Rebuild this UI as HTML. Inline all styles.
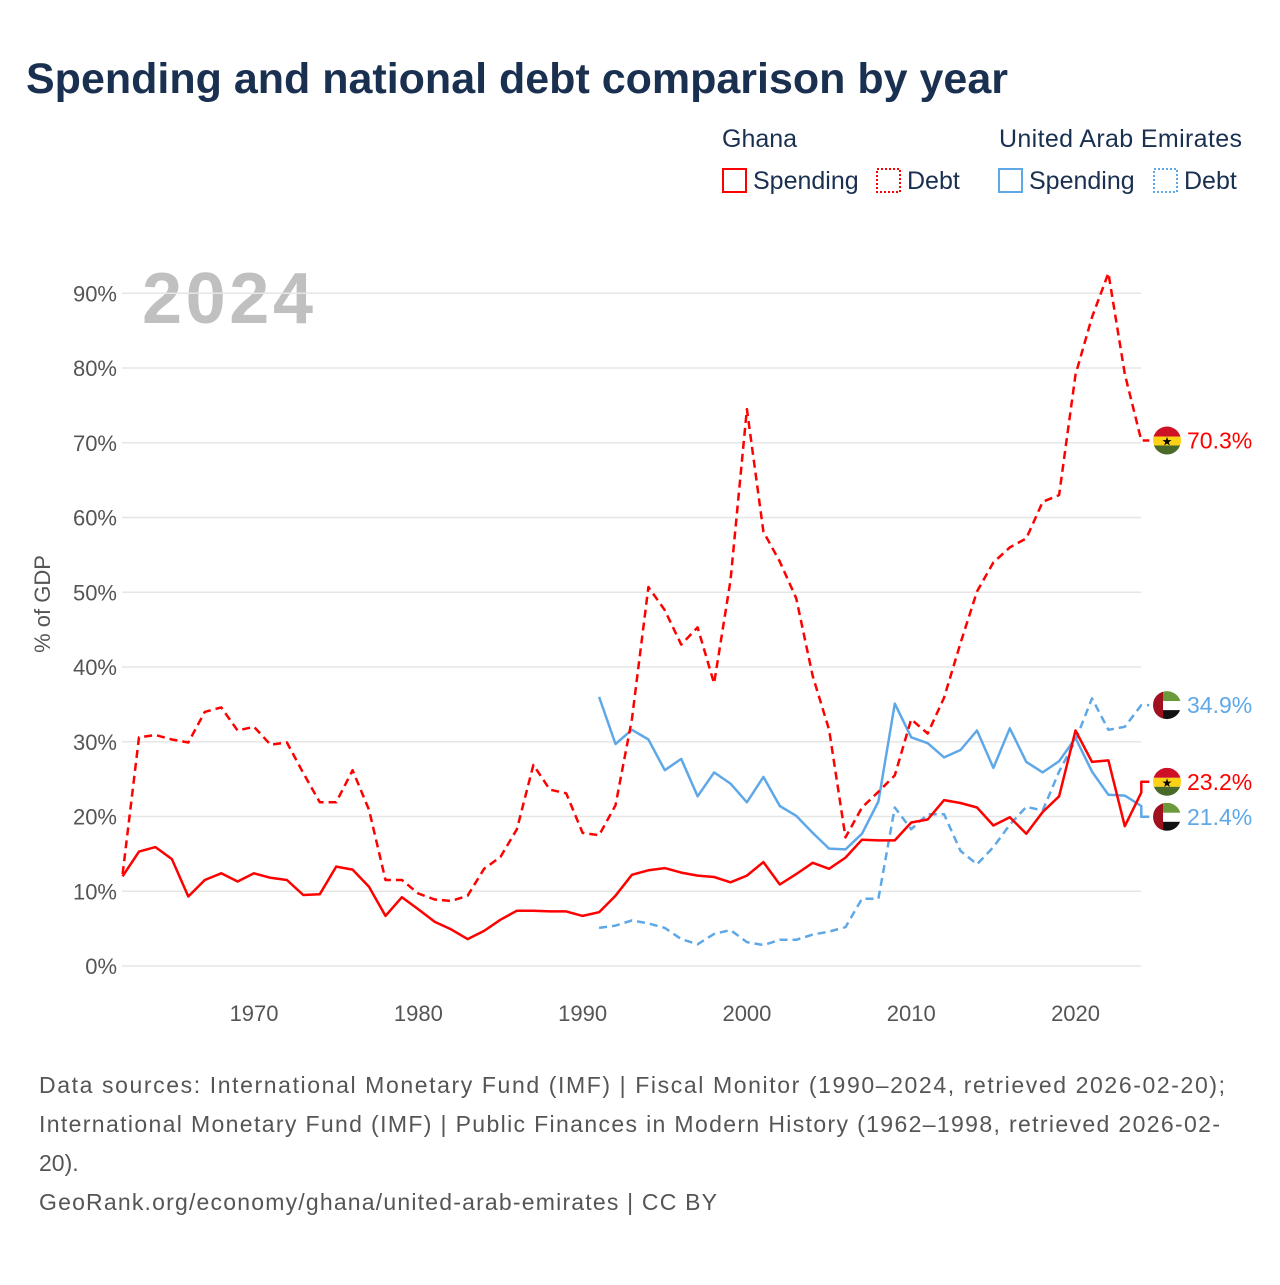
<!DOCTYPE html>
<html><head><meta charset="utf-8"><style>
body{margin:0;background:#fff;font-family:"Liberation Sans",sans-serif}
#wrap{position:relative;width:1280px;height:1280px}
</style></head><body>
<div id="wrap">
<svg id="svg" width="1280" height="1280" xmlns="http://www.w3.org/2000/svg">
<text x="26" y="93" font-size="43" font-weight="bold" fill="#1a3050">Spending and national debt comparison by year</text>
<g font-size="25" fill="#1a3050">
<text x="722" y="147">Ghana</text>
<text x="999" y="147" textLength="243">United Arab Emirates</text>
<g><rect x="723" y="169" width="23" height="23" fill="none" stroke="#f00" stroke-width="2"/><text x="753" y="189">Spending</text></g>
<g><rect x="877" y="169" width="23" height="23" fill="none" stroke="#f00" stroke-width="2" stroke-dasharray="2 2"/><text x="907" y="189">Debt</text></g>
<g><rect x="999" y="169" width="23" height="23" fill="none" stroke="#5fa8e8" stroke-width="2"/><text x="1029" y="189">Spending</text></g>
<g><rect x="1154" y="169" width="23" height="23" fill="none" stroke="#5fa8e8" stroke-width="2" stroke-dasharray="2 2"/><text x="1184" y="189">Debt</text></g>
</g>
<text x="142" y="323" font-size="72" font-weight="bold" fill="#c0c0c0" textLength="171">2024</text>
<text transform="translate(50,604) rotate(-90)" text-anchor="middle" font-size="22" fill="#555">% of GDP</text>
<g id="grid"></g><g id="series"></g><g id="ends"></g>
<g font-size="23" fill="#555">
<text x="39" y="1093" textLength="1186">Data sources: International Monetary Fund (IMF) | Fiscal Monitor (1990–2024, retrieved 2026-02-20);</text>
<text x="39" y="1132" textLength="1181">International Monetary Fund (IMF) | Public Finances in Modern History (1962–1998, retrieved 2026-02-</text>
<text x="39" y="1171">20).</text>
<text x="39" y="1210" textLength="678">GeoRank.org/economy/ghana/united-arab-emirates | CC BY</text>
</g>
</svg>
</div>
<script>
const yTicks=[0,10,20,30,40,50,60,70,80,90];
const xTicks=[1970,1980,1990,2000,2010,2020];
const ghanaStart=1962;
const ghanaSpending=[12,15.3,15.9,14.3,9.3,11.5,12.4,11.3,12.4,11.8,11.5,9.5,9.6,13.3,12.9,10.6,6.7,9.2,7.6,5.9,4.9,3.6,4.7,6.2,7.4,7.4,7.3,7.3,6.7,7.2,9.4,12.2,12.8,13.1,12.5,12.1,11.9,11.2,12.1,13.9,10.9,12.3,13.8,13.0,14.5,16.9,16.8,16.8,19.2,19.6,22.2,21.8,21.2,18.8,19.9,17.7,20.6,22.7,31.5,27.3,27.5,18.7,23.2];
const ghanaDebt=[12.3,30.6,30.9,30.3,29.9,34.0,34.6,31.5,32.0,29.6,29.9,25.8,21.9,21.9,26.2,20.9,11.5,11.5,9.7,8.9,8.7,9.4,13.0,14.6,18.3,26.9,23.6,23.1,17.8,17.5,21.5,33,50.7,47.6,43.0,45.3,37.8,51.6,74.5,58.1,54.1,49.2,38.8,31.6,17.2,21.2,23.3,25.5,33.0,31.1,35.9,43.2,50.1,54.0,56.0,57.2,62.1,63.0,79.1,86.8,92.7,79.2,70.3];
const uaeStart=1991;
const uaeSpending=[36.0,29.7,31.6,30.3,26.2,27.7,22.7,25.9,24.4,21.9,25.3,21.4,20.1,17.8,15.7,15.6,17.7,22.0,35.1,30.6,29.8,27.9,28.9,31.5,26.5,31.8,27.3,25.9,27.4,30.5,26.0,22.9,22.8,21.4];
const uaeDebt=[5.1,5.4,6.1,5.7,5.1,3.6,2.9,4.3,4.8,3.2,2.8,3.5,3.5,4.2,4.6,5.2,9.0,9.0,21.2,18.3,20.3,20.3,15.4,13.6,15.9,18.9,21.3,20.8,26.0,30.2,35.8,31.6,32.0,34.9];
const X=y=>122.6+(y-1962)*16.43;
const Y=v=>966-v*7.475;
const NS="http://www.w3.org/2000/svg";
function mk(t,a,p){const e=document.createElementNS(NS,t);for(const k in a)e.setAttribute(k,a[k]);p.appendChild(e);return e;}
const grid=document.getElementById('grid');
yTicks.forEach(v=>{
 const l=mk('line',{x1:122,x2:1141,y1:Y(v),y2:Y(v),stroke:'#e6e6e6','stroke-width':1.5},grid);
 
 
 const t=mk('text',{x:117,y:Y(v)+8,'text-anchor':'end','font-size':22,fill:'#555'},grid);
 t.textContent=v+'%';
 
 
});
xTicks.forEach(y=>{
 const t=mk('text',{x:X(y),y:1021,'text-anchor':'middle','font-size':22,fill:'#555'},grid);
 t.textContent=y;
 
 
});
// label positions (spread to avoid overlap)
const gd=ghanaDebt[ghanaDebt.length-1],gs=ghanaSpending[ghanaSpending.length-1];
const ud=uaeDebt[uaeDebt.length-1],us=uaeSpending[uaeSpending.length-1];
let lyGS=Y(gs),lyUS=Y(us);
if(Math.abs(lyGS-lyUS)<35){const m=(lyGS+lyUS)/2;const s=lyGS<lyUS?-1:1;lyGS=m+s*17.5;lyUS=m-s*17.5;}
const ser=document.getElementById('series');
function line(arr,start,color,dash,name,ly){
 const pts=arr.map((v,i)=>X(start+i).toFixed(1)+','+Y(v).toFixed(1));
 const xe=X(start+arr.length-1);
 pts.push(xe.toFixed(1)+','+ly.toFixed(1));
 pts.push((xe+8).toFixed(1)+','+ly.toFixed(1));
 const p=mk('polyline',{points:pts.join(' '),fill:'none',stroke:color,'stroke-width':2.5,'stroke-linejoin':'round','stroke-dasharray':dash},ser);
 
 
}
line(uaeDebt,uaeStart,'#5fa8e8','8 5','line-uae-debt',Y(ud));
line(uaeSpending,uaeStart,'#5fa8e8','none','line-uae-spending',lyUS);
line(ghanaDebt,ghanaStart,'#f00','8 5','line-ghana-debt',Y(gd));
line(ghanaSpending,ghanaStart,'#f00','none','line-ghana-spending',lyGS);
const ends=document.getElementById('ends');
function flag(cy,type,val,color,name){
 const g=mk('g',{},ends);
 
 
 const cx=1167,r=14;
 const id='c'+Math.round(cy);
 const cp=mk('clipPath',{id:id},g);mk('circle',{cx:cx,cy:cy,r:r},cp);
 const gg=mk('g',{'clip-path':'url(#'+id+')'},g);
 if(type==='gh'){
  mk('rect',{x:cx-r,y:cy-r,width:2*r,height:10,fill:'#ce1126'},gg);
  mk('rect',{x:cx-r,y:cy-r+10,width:2*r,height:9,fill:'#fcd116'},gg);
  mk('rect',{x:cx-r,y:cy-r+19,width:2*r,height:10,fill:'#4a6a2a'},gg);
  const s=mk('text',{x:cx,y:cy+5,'text-anchor':'middle','font-size':12,fill:'#000'},gg);s.textContent='★';
 }else{
  mk('rect',{x:cx-r,y:cy-r,width:2*r,height:10,fill:'#6a9a3a'},gg);
  mk('rect',{x:cx-r,y:cy-r+10,width:2*r,height:9,fill:'#fff'},gg);
  mk('rect',{x:cx-r,y:cy-r+19,width:2*r,height:10,fill:'#111'},gg);
  mk('rect',{x:cx-r,y:cy-r,width:10,height:2*r,fill:'#a0101e'},gg);
 }
 const t=mk('text',{x:1187,y:cy+8,'font-size':23,fill:color},g);
 t.textContent=val.toFixed(1)+'%';
}
flag(Y(gd),'gh',gd,'#f00','end-label-ghana-debt');
flag(Y(ud),'ae',ud,'#5fa8e8','end-label-uae-debt');
flag(lyGS,'gh',gs,'#f00','end-label-ghana-spending');
flag(lyUS,'ae',us,'#5fa8e8','end-label-uae-spending');
</script>
</body></html>
